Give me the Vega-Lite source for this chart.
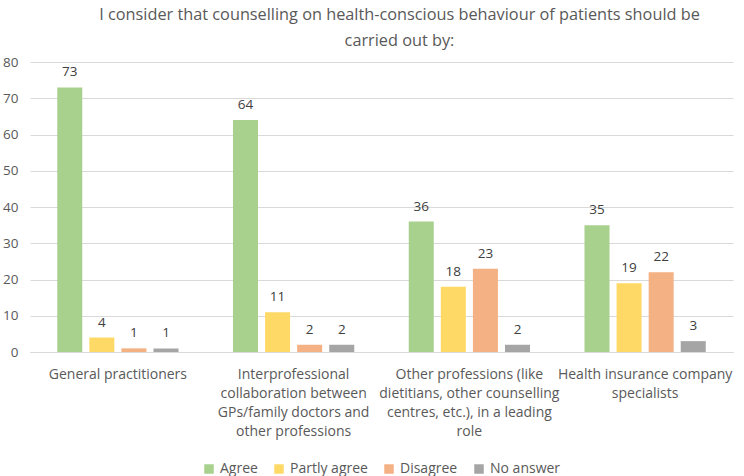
{
  "$schema": "https://vega.github.io/schema/vega-lite/v6.json",
  "width": 703,
  "height": 290,
  "autosize": {"type": "none"},
  "padding": {"left": 30, "top": 62, "right": 11, "bottom": 124},
  "background": "white",
  "config": {
    "font": "Open Sans",
    "view": {"stroke": null},
    "legend": {"layout": {"bottom": {"anchor": "middle"}}}
  },
  "title": {
    "text": ["I consider that counselling on health-conscious behaviour of patients should be", "carried out by:"],
    "fontSize": 16.3,
    "fontWeight": "normal",
    "color": "#595959",
    "anchor": "middle",
    "dx": 18,
    "offset": 6,
    "lineHeight": 26
  },
  "data": {
    "values": [
      {"category": "General practitioners", "response": "Agree", "value": 73},
      {"category": "General practitioners", "response": "Partly agree", "value": 4},
      {"category": "General practitioners", "response": "Disagree", "value": 1},
      {"category": "General practitioners", "response": "No answer", "value": 1},
      {"category": "Interprofessional|collaboration between|GPs/family doctors and|other professions", "response": "Agree", "value": 64},
      {"category": "Interprofessional|collaboration between|GPs/family doctors and|other professions", "response": "Partly agree", "value": 11},
      {"category": "Interprofessional|collaboration between|GPs/family doctors and|other professions", "response": "Disagree", "value": 2},
      {"category": "Interprofessional|collaboration between|GPs/family doctors and|other professions", "response": "No answer", "value": 2},
      {"category": "Other professions (like|dietitians, other counselling|centres, etc.), in a leading|role", "response": "Agree", "value": 36},
      {"category": "Other professions (like|dietitians, other counselling|centres, etc.), in a leading|role", "response": "Partly agree", "value": 18},
      {"category": "Other professions (like|dietitians, other counselling|centres, etc.), in a leading|role", "response": "Disagree", "value": 23},
      {"category": "Other professions (like|dietitians, other counselling|centres, etc.), in a leading|role", "response": "No answer", "value": 2},
      {"category": "Health insurance company|specialists", "response": "Agree", "value": 35},
      {"category": "Health insurance company|specialists", "response": "Partly agree", "value": 19},
      {"category": "Health insurance company|specialists", "response": "Disagree", "value": 22},
      {"category": "Health insurance company|specialists", "response": "No answer", "value": 3}
    ]
  },
  "encoding": {
    "x": {
      "field": "category",
      "type": "nominal",
      "sort": null,
      "scale": {"paddingInner": 0.31, "paddingOuter": 0.155},
      "axis": {
        "title": null,
        "labelAngle": 0,
        "labelExpr": "split(datum.label, '|')",
        "labelFontSize": 14,
        "labelColor": "#595959",
        "labelLineHeight": 19,
        "labelPadding": 15,
        "ticks": false,
        "domainColor": "#d9d9d9",
        "labelLimit": 300
      }
    },
    "xOffset": {
      "field": "response",
      "type": "nominal",
      "sort": ["Agree", "Partly agree", "Disagree", "No answer"],
      "scale": {"paddingInner": 0.22}
    },
    "y": {
      "field": "value",
      "type": "quantitative",
      "scale": {"domain": [0, 80], "nice": false},
      "axis": {
        "title": null,
        "values": [0, 10, 20, 30, 40, 50, 60, 70, 80],
        "labelOverlap": false,
        "domain": false,
        "ticks": false,
        "labelFontSize": 13.5,
        "labelColor": "#595959",
        "labelPadding": 12,
        "gridColor": "#d9d9d9"
      }
    }
  },
  "layer": [
    {
      "mark": {"type": "bar"},
      "encoding": {
        "color": {
          "field": "response",
          "type": "nominal",
          "sort": ["Agree", "Partly agree", "Disagree", "No answer"],
          "scale": {
            "domain": ["Agree", "Partly agree", "Disagree", "No answer"],
            "range": ["#a9d18e", "#ffd966", "#f4b183", "#a5a5a5"]
          },
          "legend": {
            "title": null,
            "orient": "bottom",
            "direction": "horizontal",
            "symbolType": "square",
            "symbolSize": 90,
            "symbolStrokeWidth": 0,
            "labelFontSize": 14,
            "labelColor": "#595959",
            "columnPadding": 14,
            "offset": 24
          }
        }
      }
    },
    {
      "mark": {"type": "text", "dy": -15, "fontSize": 13.5, "color": "#404040"},
      "encoding": {
        "text": {"field": "value", "type": "quantitative"}
      }
    }
  ]
}
